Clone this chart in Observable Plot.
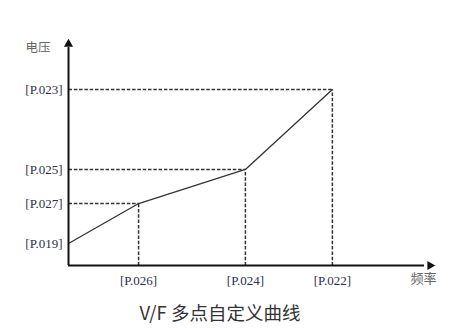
<!DOCTYPE html>
<html>
<head>
<meta charset="utf-8">
<script src="https://cdn.jsdelivr.net/npm/d3@7"></script>
<script src="https://cdn.jsdelivr.net/npm/@observablehq/plot@0.6"></script>
<style>
  body { margin: 0; background: #fff; }
  #chart { width: 456px; }
  #title {
    width: 456px; height: 32px; line-height: 32px;
    text-align: center; padding-right: 16px; box-sizing: border-box;
    font-family: "Noto Sans CJK SC", "Noto Sans", sans-serif;
    font-size: 18.5px; color: #333;
  }
</style>
</head>
<body>
<div id="chart"></div>
<div id="title">V/F 多点自定义曲线</div>
<script>
// Breakpoints of the V/F curve (relative frequency / voltage units)
const freq = [0, 19.1, 48.2, 71.9];
const volt = [9.7, 27.3, 42.3, 77.5];
// Parameter labels for each breakpoint
const voltLabels = ["[P.019]", "[P.027]", "[P.025]", "[P.023]"];
const freqLabels = ["[P.026]", "[P.024]", "[P.022]"];
const xTitle = "频率";
const yTitle = "电压";

const points = freq.map((f, i) => ({f, v: volt[i]}));
const corners = points.slice(1);

const labelColor = "#2b3050";
const ink = "#333";

const plot = Plot.plot({
  width: 456,
  height: 296,
  marginLeft: 68,
  marginRight: 21,
  marginTop: 38,
  marginBottom: 31,
  x: {domain: [0, 100]},
  y: {domain: [0, 100]},
  style: {fontFamily: "Liberation Serif, serif", fontSize: "13px", background: "#fff"},
  marks: [
    // dashed guides from each breakpoint to both axes
    Plot.link(corners, {x1: 0, x2: "f", y1: "v", y2: "v", stroke: ink, strokeWidth: 1.5, strokeDasharray: "3.5,1.8"}),
    Plot.link(corners, {x1: "f", x2: "f", y1: 0, y2: "v", stroke: ink, strokeWidth: 1.5, strokeDasharray: "3.5,1.8"}),
    // the curve itself
    Plot.line(points, {x: "f", y: "v", stroke: ink, strokeWidth: 1.3}),
    // axes with arrowheads
    Plot.ruleY([0], {x1: 0, x2: 97, stroke: "#111", strokeWidth: 2}),
    Plot.ruleX([0], {y1: 0, y2: 96, stroke: "#111", strokeWidth: 2}),
    Plot.dot([{x: 0, y: 100}], {x: "x", y: "y", symbol: "triangle", r: 3.4, fill: "#111", dy: 5.5}),
    Plot.dot([{x: 100, y: 0}], {x: "x", y: "y", symbol: "triangle", r: 3.4, fill: "#111", rotate: 90, dx: -5.5}),
    Plot.axisY({ticks: volt, tickFormat: (d, i) => voltLabels[i], tickSize: 0, tickPadding: 6, fill: labelColor, fontSize: 13, label: null}),
    Plot.axisX({ticks: freq.slice(1), tickFormat: (d, i) => freqLabels[i], tickSize: 0, tickPadding: 10, fill: labelColor, fontSize: 13, label: null}),
    // axis titles
    Plot.text([xTitle], {x: 96.7, y: -5.7, text: d => d, fontFamily: "Noto Sans CJK SC", fontSize: 13, fill: "#666"}),
    Plot.text([yTitle], {x: -8.3, y: 95.6, text: d => d, fontFamily: "Noto Sans CJK SC", fontSize: 12.5, fill: "#666"})
  ]
});
document.getElementById("chart").appendChild(plot);
</script>
</body>
</html>
